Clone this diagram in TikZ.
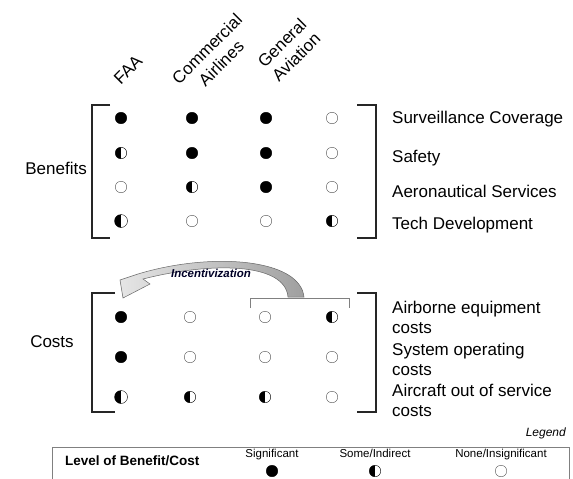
\documentclass[tikz,border=0pt]{standalone}
\usepackage{fontspec}
\setmainfont{Liberation Sans}
\usetikzlibrary{positioning}
\tikzset {
    dot full/.style={
        circle, % Set the shape as a circle
        draw=black,
        fill=black,
        minimum size=11.5pt,
        inner sep=0pt,
    },
    dot half/.style={
        circle, % Set the shape as a circle
        draw=black,
        fill=white,
        minimum size=11.5pt,
        inner sep=0pt,
        path picture={\fill[black] (path picture bounding box.south west) rectangle (path picture bounding box.north);},
    },
    dot none/.style={
        circle, % Set the shape as a circle
        draw=black!65,
        fill=white,
        minimum size=11.5pt,
        inner sep=0pt,
    },
    row label/.style={
        anchor=west,
        inner sep=0pt,
        align=left,
        font=\fontsize{17}{20}\selectfont,
    },
    head label/.style={
        rotate=45,
        inner sep=0pt,
        align=center,
        font=\fontsize{17}{20}\selectfont,
    },
    key label/.style={
        anchor=base,
        inner sep=0pt,
        font=\fontsize{11.5}{14}\selectfont,
    },
    bracket/.style={
        draw=black!85,
        line width=1.2pt,
    },
}

\begin{document}
\begin{tikzpicture}
        [x=1pt, y=-1pt]

        \useasboundingbox (0,0) rectangle (573,479);

        % column heads
        \node[head label] (faa) at (128,70) {FAA};
        \node[head label] (cal) at (214,56) {Commercial\\Airlines};
        \node[head label] (gav) at (289,50) {General\\Aviation};

        % benefits
        \node[anchor=east, inner sep=0pt, font=\fontsize{17}{20}\selectfont] (ben) at (87,168) {Benefits};
        \draw[bracket] (110,105) -- (92,105) -- (92,238) -- (110,238);
        \draw[bracket] (357,105) -- (376,105) -- (376,238) -- (357,238);

        \node[dot full] (faa1) at (121,118) {};
        \node[dot full] (cal1) at (192,118) {};
        \node[dot full] (gav1) at (266,118) {};
        \node[dot none] (oth1) at (332,118) {};

        \node[dot half] (faa2) at (121,153) {};
        \node[dot full] (cal2) at (192,153) {};
        \node[dot full] (gav2) at (266,153) {};
        \node[dot none] (oth2) at (332,153) {};

        \node[dot none] (faa3) at (121,187) {};
        \node[dot half] (cal3) at (192,187) {};
        \node[dot full] (gav3) at (266,187) {};
        \node[dot none] (oth3) at (332,187) {};

        \node[dot half, minimum size=13pt] (faa4) at (121,221) {};
        \node[dot none] (cal4) at (192,221) {};
        \node[dot none] (gav4) at (266,221) {};
        \node[dot half] (oth4) at (332,221) {};

        \node[row label] (sc) at (392,119) {Surveillance Coverage};
        \node[row label] (sf) at (392,158) {Safety};
        \node[row label] (as) at (392,191) {Aeronautical Services};
        \node[row label] (td) at (392,225) {Tech Development};

        % costs
        \node[font=\fontsize{17}{20}\selectfont] (cst) at (52,342) {Costs};
        \draw[bracket] (115,293) -- (92,293) -- (92,412) -- (115,412);
        \draw[bracket] (357,293) -- (376,293) -- (376,412) -- (357,412);

        \node[dot full] (cfaa1) at (121,317) {};
        \node[dot none] (ccal1) at (190,317) {};
        \node[dot none] (cgav1) at (265,317) {};
        \node[dot half] (coth1) at (332,317) {};

        \node[dot full] (cfaa2) at (121,357) {};
        \node[dot none] (ccal2) at (190,357) {};
        \node[dot none] (cgav2) at (265,357) {};
        \node[dot none] (coth2) at (332,357) {};

        \node[dot half, minimum size=13pt] (cfaa3) at (121,397) {};
        \node[dot half] (ccal3) at (190,397) {};
        \node[dot half] (cgav3) at (265,397) {};
        \node[dot none] (coth3) at (332,397) {};

        \node[row label] (ae) at (392,317) {Airborne equipment\\costs};
        \node[row label] (so) at (392,359) {System operating\\costs};
        \node[row label] (ao) at (392,400) {Aircraft out of service\\costs};

        % incentivization
        \draw[gray, line width=1pt] (250,308) -- (250,298) -- (349,298) -- (349,308);
        \shade[left color=gray!20, right color=gray!75, draw=gray!80!black, line width=0.5pt]
            (304,297) .. controls (300,258) and (210,252) .. (138,274)
            -- (120,280) -- (123,298) -- (150,284) -- (143,279)
            .. controls (210,262) and (285,262) .. (288,297) -- cycle;
        \node[font=\fontsize{11.5}{12}\bfseries\itshape\selectfont, text=black!85!blue] (inc) at (211,273) {Incentivization};

        % legend
        \node[anchor=east, inner sep=0pt, font=\fontsize{12}{14}\itshape\selectfont] (leg) at (566,433) {Legend};
        \draw[gray] (52,447) rectangle (569,495);
        \node[anchor=west, inner sep=0pt, font=\fontsize{13.5}{16}\bfseries\selectfont] (lvl) at (65,461) {Level of Benefit/Cost};
        \node[key label] (sig) at (272,457) {Significant};
        \node[key label] (som) at (375,457) {Some/Indirect};
        \node[key label] (non) at (501,457) {None/Insignificant};
        \node[dot full] (lsig) at (272,471) {};
        \node[dot half] (lsom) at (375,471) {};
        \node[dot none] (lnon) at (501,471) {};

    \end{tikzpicture}
\end{document}
